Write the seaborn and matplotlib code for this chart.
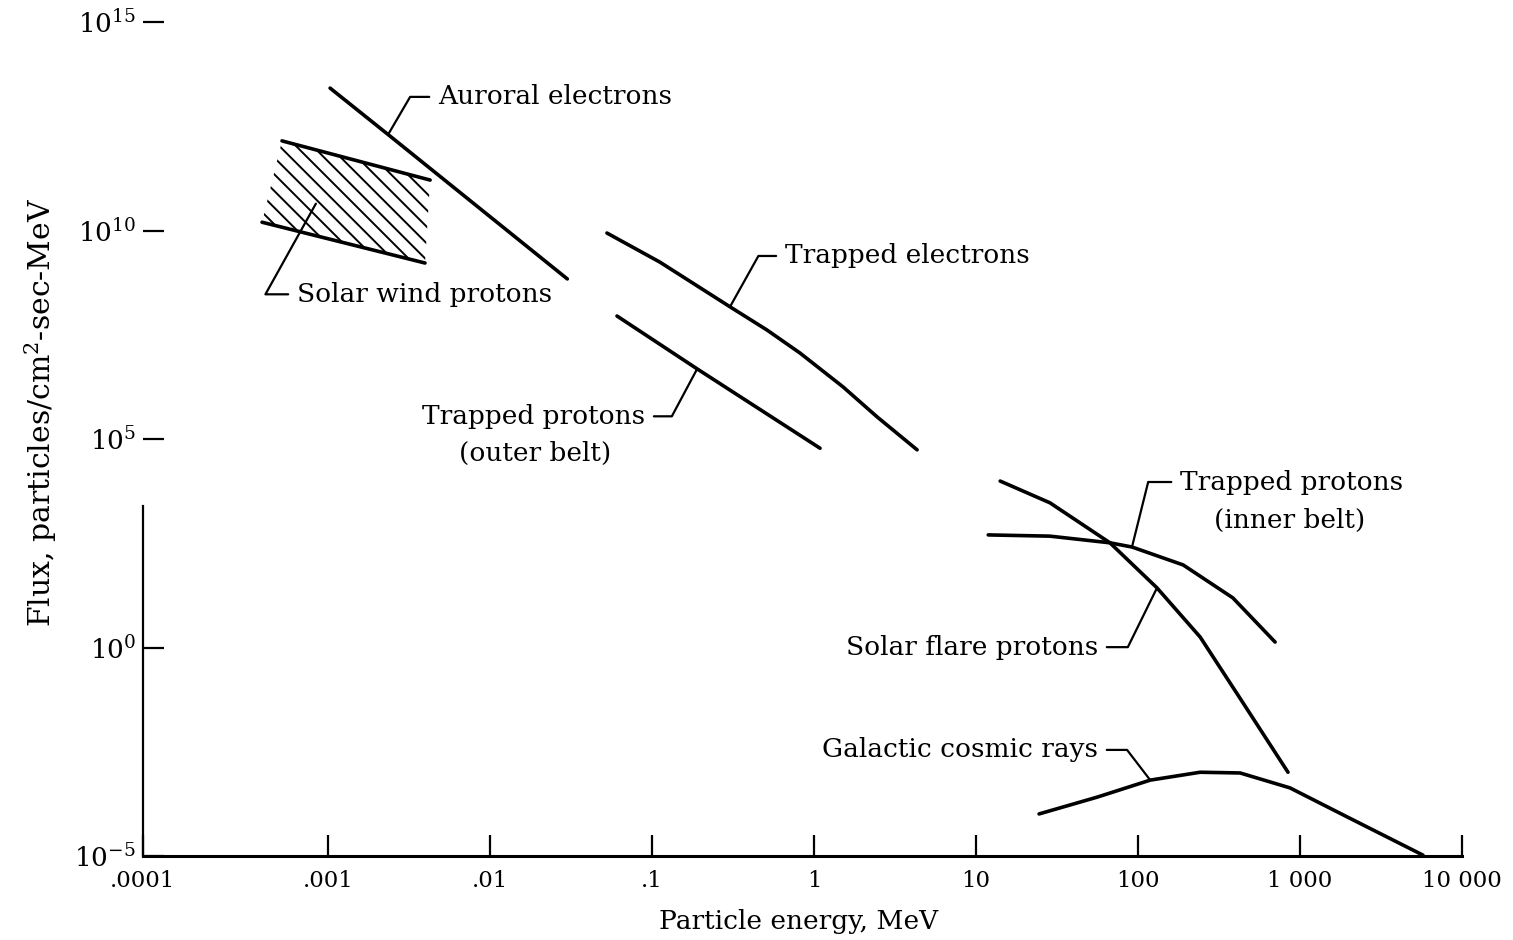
import numpy as np
import pandas as pd
import matplotlib
matplotlib.use("Agg")
import matplotlib.pyplot as plt
import seaborn as sns
from matplotlib.ticker import FixedLocator, FixedFormatter, NullLocator

sns.set_style("ticks")
plt.rcParams["font.family"] = ["DejaVu Serif"]
plt.rcParams["mathtext.fontset"] = "dejavuserif"
plt.rcParams["hatch.linewidth"] = 1.4
for key in ["text.color", "axes.labelcolor", "xtick.color", "ytick.color", "axes.edgecolor"]:
    plt.rcParams[key] = "black"

# energies in MeV, flux in particles/cm^2-sec-MeV
auroral_e = [1.03e-3, 2.35e-3, 3.0e-2]
auroral_f = [2.6e13, 2.0e12, 6.9e8]

wind_top_e = [5.64e-4, 4.27e-3]
wind_top_f = [1.41e12, 1.62e11]
wind_bot_e = [4.40e-4, 3.97e-3]
wind_bot_f = [1.58e10, 1.66e9]

trap_e_e = [0.0527, 0.112, 0.303, 0.513, 0.820, 1.51, 2.45, 4.33]
trap_e_f = [8.7e9, 1.74e9, 1.48e8, 4.1e7, 1.15e7, 1.78e6, 3.4e5, 5.5e4]

outer_p_e = [0.0608, 0.190, 1.09]
outer_p_f = [8.9e7, 4.8e6, 6.0e4]

flare_e = [14.1, 28.6, 67.1, 131, 242, 445, 843]
flare_f = [9.8e3, 2.95e3, 324, 26.9, 1.78, 0.047, 1.02e-3]

inner_p_e = [11.9, 28.6, 67.1, 91.8, 190, 385, 702]
inner_p_f = [501, 468, 324, 257, 95.5, 15.5, 1.35]

cosmic_e = [24.5, 55.8, 119, 242, 427, 867, 1950, 5740]
cosmic_f = [1.02e-4, 2.57e-4, 6.6e-4, 1.02e-3, 9.8e-4, 4.3e-4, 8.7e-5, 1.05e-5]

x_ticks = [1e-4, 1e-3, 1e-2, 0.1, 1, 10, 100, 1000, 10000]
x_labels = [".0001", ".001", ".01", ".1", "1", "10", "100", "1 000", "10 000"]
y_ticks = [1e-5, 1e0, 1e5, 1e10, 1e15]
y_labels = ["$10^{-5}$", "$10^{0}$", "$10^{5}$", "$10^{10}$", "$10^{15}$"]

curves = {
    "auroral": (auroral_e, auroral_f),
    "wind_top": (wind_top_e, wind_top_f),
    "wind_bot": (wind_bot_e, wind_bot_f),
    "trap_e": (trap_e_e, trap_e_f),
    "outer_p": (outer_p_e, outer_p_f),
    "flare": (flare_e, flare_f),
    "inner_p": (inner_p_e, inner_p_f),
    "cosmic": (cosmic_e, cosmic_f),
}
df = pd.concat([pd.DataFrame({"energy": e, "flux": f, "curve": k})
                for k, (e, f) in curves.items()], ignore_index=True)

# the hand-drawn axis has a wider first decade (.0001 - .001)
K = 185 / 162


def fwd(v):
    lv = np.log10(np.maximum(v, 1e-12))
    return np.where(lv < -3, -3 + (lv + 3) * K, lv)


def inv(u):
    return np.where(u < -3, 10 ** (-3 + (u + 3) / K), 10.0 ** u)


fig = plt.figure(figsize=(15.13, 9.40), dpi=100)
ax = fig.add_axes([143 / 1513, 1 - 856 / 940, 1319 / 1513, 834 / 940])
ax.set_xscale("function", functions=(fwd, inv))
ax.set_yscale("log")
ax.set_xlim(1e-4, 1e4)
ax.set_ylim(1e-5, 1e15)

sns.lineplot(data=df, x="energy", y="flux", units="curve", estimator=None,
             sort=False, color="black", linewidth=2.6, ax=ax)

# hatched solar wind band
poly_e = wind_top_e + wind_bot_e[::-1]
poly_f = wind_top_f + wind_bot_f[::-1]
ax.fill(poly_e, poly_f, facecolor="none", edgecolor="black", hatch="\\\\", linewidth=0)

# axes styling
for s in ["top", "right"]:
    ax.spines[s].set_visible(False)
ax.spines["bottom"].set_linewidth(2.2)
ax.spines["left"].set_linewidth(1.6)
ax.spines["left"].set_bounds(1e-5, 10 ** 3.4)

ax.xaxis.set_major_locator(FixedLocator(x_ticks))
ax.xaxis.set_major_formatter(FixedFormatter(x_labels))
ax.xaxis.set_minor_locator(NullLocator())
ax.yaxis.set_major_locator(FixedLocator(y_ticks))
ax.yaxis.set_major_formatter(FixedFormatter(y_labels))
ax.yaxis.set_minor_locator(NullLocator())
ax.tick_params(axis="x", direction="in", length=15, width=1.6, pad=10, labelsize=16.5)
ax.tick_params(axis="y", direction="in", length=15, width=1.6, pad=5, labelsize=19)

ax.set_xlabel("Particle energy, MeV", fontsize=19)
ax.xaxis.set_label_coords(0.497, -0.064)
ax.set_ylabel("Flux, particles/cm$^2$-sec-MeV", fontsize=21.5)
ax.yaxis.set_label_coords(-0.064, 0.532)

# labels with bent leader lines
lab_kw = dict(fontsize=19, va="center")


def leader(text, xy, xytext, ang, ha):
    ax.annotate(text, xy=xy, xytext=xytext, ha=ha, **lab_kw,
                arrowprops=dict(arrowstyle="-", color="black", lw=1.6,
                                shrinkA=4, shrinkB=0,
                                connectionstyle=f"angle,angleA=0,angleB={ang},rad=0"))


leader("Auroral electrons", (auroral_e[1], auroral_f[1]), (4.78e-3, 1.6e13), 59.7, "left")
leader("Solar wind protons", (8.6e-4, 4.4e10), (6.8e-4, 2.95e8), 60.9, "left")
leader("Trapped electrons", (trap_e_e[2], trap_e_f[2]), (0.662, 2.45e9), 60.8, "left")
leader("Trapped protons", (outer_p_e[1], outer_p_f[1]), (0.0906, 3.5e5), 61.9, "right")
ax.text(0.019, 4.4e4, "(outer belt)", ha="center", **lab_kw)
leader("Trapped protons", (inner_p_e[3], inner_p_f[3]), (182, 9.3e3), 76, "left")
ax.text(867, 1.1e3, "(inner belt)", ha="center", **lab_kw)
leader("Solar flare protons", (flare_e[3], flare_f[3]), (56.6, 1.02), 63.8, "right")
leader("Galactic cosmic rays", (cosmic_e[2], cosmic_f[2]), (56.6, 3.5e-3), 127.5, "right")

fig.savefig("out.png", dpi=100)
